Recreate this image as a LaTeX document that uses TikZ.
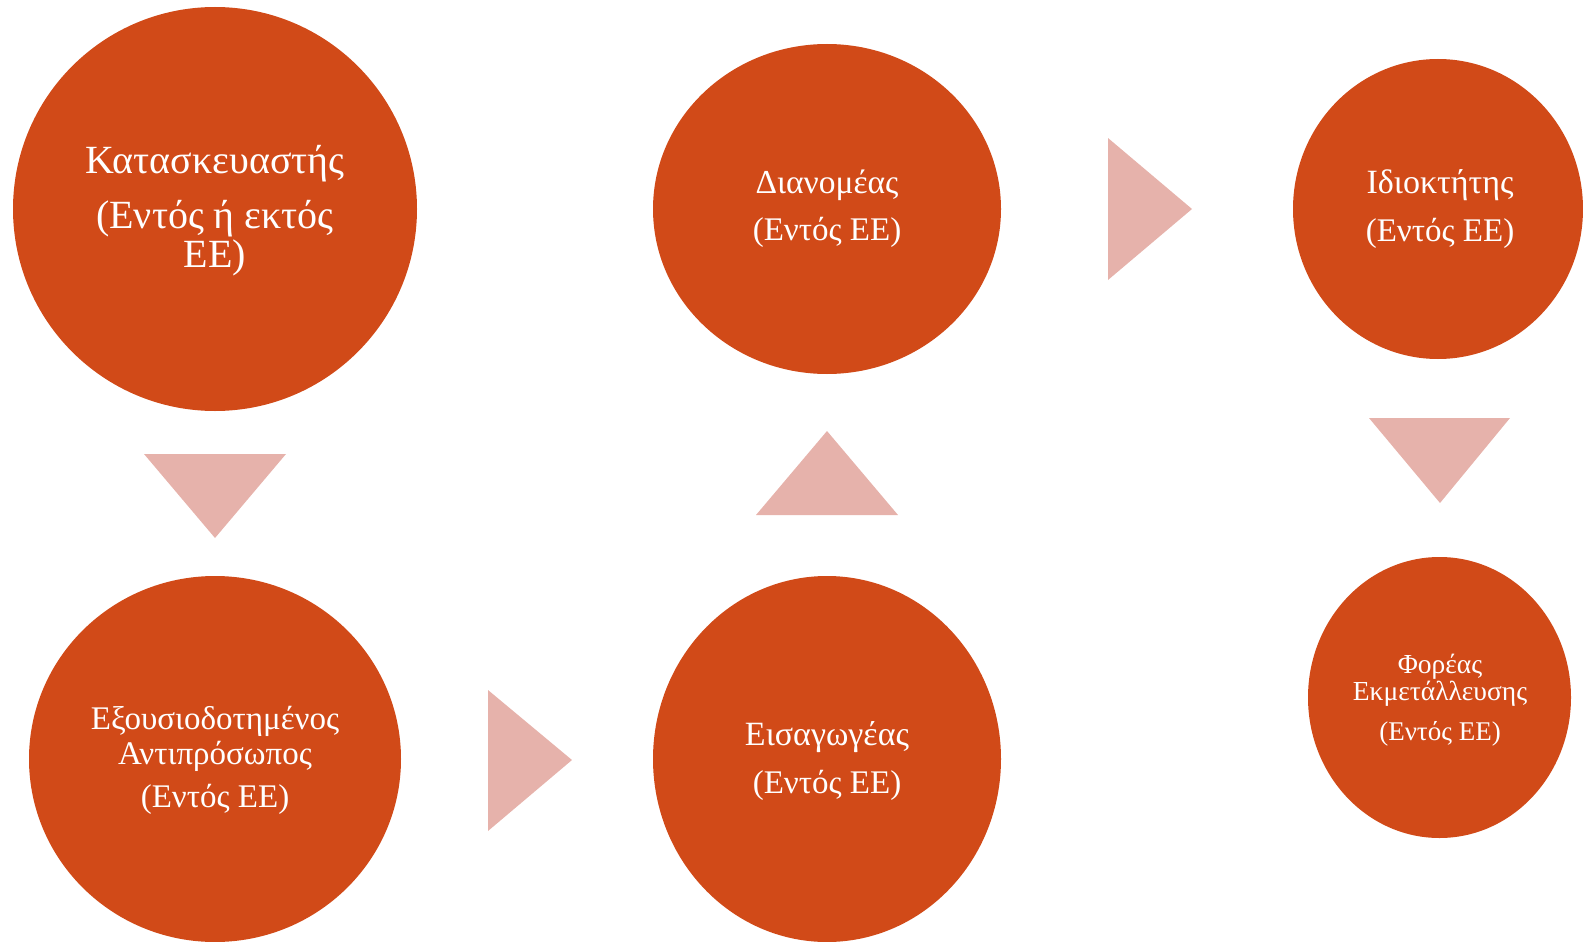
\documentclass[tikz,border=0pt]{standalone}
\usepackage{fontspec}
\setmainfont{Liberation Serif}
\usetikzlibrary{shapes.geometric}
\definecolor{circ}{RGB}{209,74,24}
\definecolor{tri}{RGB}{230,178,171}
\tikzset{
  bubble/.style={ellipse, fill=circ, draw=none, inner sep=0pt, outer sep=0pt},
  lbl/.style={anchor=base, text=white, inner sep=0pt},
  arrowtri/.style={fill=tri, draw=none},
}
\newcommand{\fsz}[1]{\fontsize{#1}{#1}\selectfont}
\begin{document}
\begin{tikzpicture}[x=1pt,y=-1pt]
\useasboundingbox (0,0) rectangle (1583,942);
% circles
\node[bubble, minimum width=404pt, minimum height=404pt] (kat) at (215,209) {};
\node[bubble, minimum width=372pt, minimum height=366pt] (exo) at (215,759) {};
\node[bubble, minimum width=348pt, minimum height=330pt] (dia) at (827,209) {};
\node[bubble, minimum width=348pt, minimum height=366pt] (eis) at (827,759) {};
\node[bubble, minimum width=290pt, minimum height=300pt] (idi) at (1438,209) {};
\node[bubble, minimum width=263pt, minimum height=281pt] (for) at (1439.5,697.5) {};
% labels
\node[lbl, font=\fsz{40}] (kat1) at (215,173) {Κατασκευαστής};
\node[lbl, font=\fsz{40}] (kat2) at (215,228) {(Εντός ή εκτός};
\node[lbl, font=\fsz{40}] (kat3) at (215,267) {ΕΕ)};
\node[lbl, font=\fsz{33}] (exo1) at (215,729) {Εξουσιοδοτημένος};
\node[lbl, font=\fsz{33}] (exo2) at (215,764) {Αντιπρόσωπος};
\node[lbl, font=\fsz{33}] (exo3) at (215,807) {(Εντός ΕΕ)};
\node[lbl, font=\fsz{33.5}] (dia1) at (827,193) {Διανομέας};
\node[lbl, font=\fsz{33}] (dia2) at (827,240) {(Εντός ΕΕ)};
\node[lbl, font=\fsz{34}] (eis1) at (827,745) {Εισαγωγέας};
\node[lbl, font=\fsz{33}] (eis2) at (827,793) {(Εντός ΕΕ)};
\node[lbl, font=\fsz{34}] (idi1) at (1440,193) {Ιδιοκτήτης};
\node[lbl, font=\fsz{33}] (idi2) at (1440,241) {(Εντός ΕΕ)};
\node[lbl, font=\fsz{27.5}] (for1) at (1440,673) {Φορέας};
\node[lbl, font=\fsz{27.5}] (for2) at (1440,700) {Εκμετάλλευσης};
\node[lbl, font=\fsz{27}] (for3) at (1440,740) {(Εντός ΕΕ)};
% arrow triangles
\fill[arrowtri] (144,454) -- (286,454) -- (215,538) -- cycle;
\fill[arrowtri] (488,690) -- (488,831) -- (572,760) -- cycle;
\fill[arrowtri] (756,515) -- (898,515) -- (827,431) -- cycle;
\fill[arrowtri] (1108,138) -- (1108,280) -- (1192,209) -- cycle;
\fill[arrowtri] (1369,418) -- (1510,418) -- (1440,503) -- cycle;
\end{tikzpicture}
\end{document}
